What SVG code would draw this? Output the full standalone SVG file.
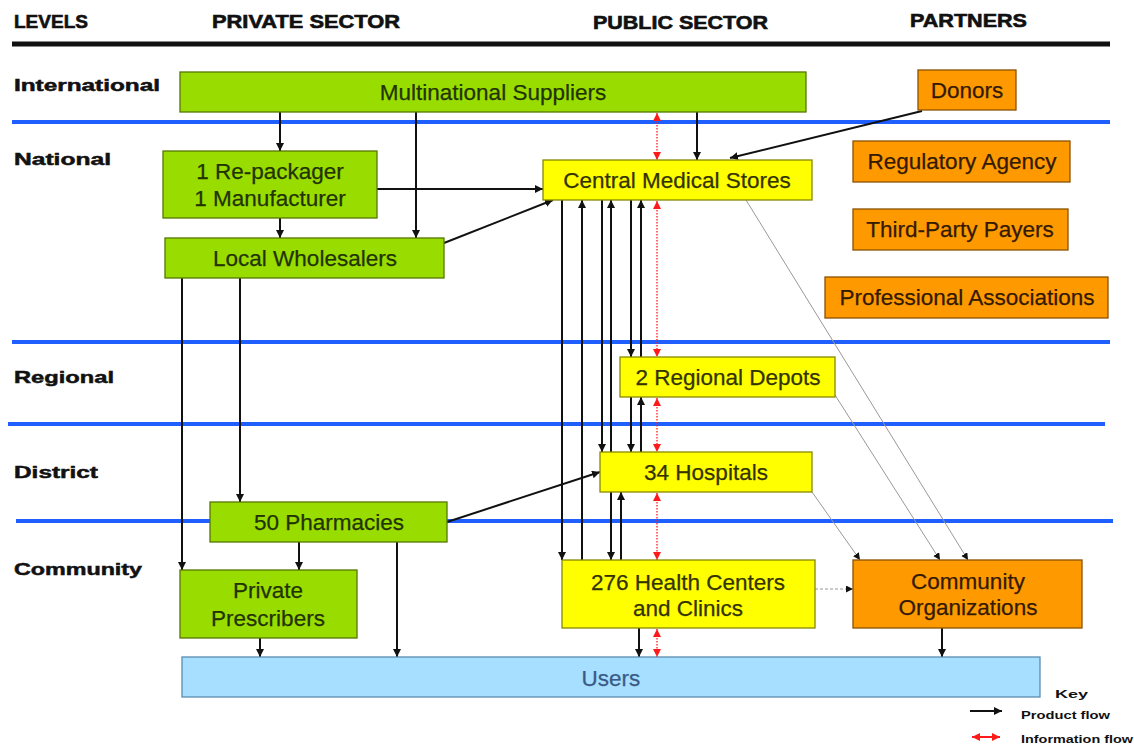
<svg xmlns="http://www.w3.org/2000/svg" width="1134" height="747" viewBox="0 0 1134 747">
  <style>
    .hdr { font-family: "Liberation Sans", Arial, sans-serif; font-weight: bold; font-size: 18px; fill: #111; stroke: #111; stroke-width: 0.6; }
    .lvl { font-family: "Liberation Sans", Arial, sans-serif; font-weight: bold; font-size: 17px; fill: #111; stroke: #111; stroke-width: 0.5; }
    .lbl { font-family: "Liberation Sans", Arial, sans-serif; font-size: 22.5px; text-anchor: middle; stroke-width: 0.25; }
    .green { fill: #99dd00; stroke: #557700; stroke-width: 1.3; }
    .yellow { fill: #ffff00; stroke: #888800; stroke-width: 1.3; }
    .orange { fill: #ff9900; stroke: #8a5200; stroke-width: 1.3; }
    .users { fill: #a6dfff; stroke: #5a8cb0; stroke-width: 1.3; }
    .tg { fill: #223300; stroke: #223300; }
    .ty { fill: #333300; stroke: #333300; }
    .to { fill: #331a00; stroke: #331a00; }
    .tu { fill: #3a5a86; stroke: #3a5a86; }
    .band { stroke: #1f5fff; stroke-width: 4; fill: none; }
    .prod { stroke: #111; stroke-width: 2; fill: none; marker-end: url(#ah); }
    .info { stroke: #ff1a1a; stroke-width: 1.3; stroke-dasharray: 1.5 1.5; fill: none; marker-start: url(#rh); marker-end: url(#rh); }
    .thin { stroke: #999; stroke-width: 1; fill: none; marker-end: url(#ahs); }
    .key { font-family: "Liberation Sans", Arial, sans-serif; font-weight: bold; font-size: 11px; fill: #111; }
  </style>
  <defs>
    <marker id="ah" markerUnits="userSpaceOnUse" markerWidth="9" markerHeight="9" refX="8" refY="4" orient="auto">
      <path d="M0,0 L8,4 L0,8 z" fill="#111"/>
    </marker>
    <marker id="ahs" markerUnits="userSpaceOnUse" markerWidth="8" markerHeight="8" refX="7" refY="3.5" orient="auto">
      <path d="M0,0 L7,3.5 L0,7 z" fill="#111"/>
    </marker>
    <marker id="rh" markerUnits="userSpaceOnUse" markerWidth="9" markerHeight="9" refX="8" refY="4" orient="auto-start-reverse">
      <path d="M0,0 L8,4 L0,8 z" fill="#ff1a1a"/>
    </marker>
  </defs>

  <!-- column headers -->
  <g id="headers">
    <text class="hdr" x="14" y="28" textLength="74" lengthAdjust="spacingAndGlyphs">LEVELS</text>
    <text class="hdr" x="212" y="28" textLength="188" lengthAdjust="spacingAndGlyphs">PRIVATE SECTOR</text>
    <text class="hdr" x="593" y="29" textLength="175" lengthAdjust="spacingAndGlyphs">PUBLIC SECTOR</text>
    <text class="hdr" x="910" y="27" textLength="117" lengthAdjust="spacingAndGlyphs">PARTNERS</text>
    <line x1="12" y1="44" x2="1110" y2="44" stroke="#111" stroke-width="5"/>
  </g>

  <!-- level bands -->
  <g id="levels">
    <line class="band" x1="12" y1="122" x2="1110" y2="122"/>
    <line class="band" x1="12" y1="342" x2="1110" y2="342"/>
    <line class="band" x1="8" y1="424" x2="1105" y2="424"/>
    <line class="band" x1="16" y1="521" x2="1113" y2="521"/>
    <text class="lvl" x="14" y="91" textLength="146" lengthAdjust="spacingAndGlyphs">International</text>
    <text class="lvl" x="14" y="165" textLength="97" lengthAdjust="spacingAndGlyphs">National</text>
    <text class="lvl" x="14" y="383" textLength="100" lengthAdjust="spacingAndGlyphs">Regional</text>
    <text class="lvl" x="14" y="478" textLength="84" lengthAdjust="spacingAndGlyphs">District</text>
    <text class="lvl" x="14" y="575" textLength="128" lengthAdjust="spacingAndGlyphs">Community</text>
  </g>

  <!-- flows -->
  <g id="connectors">
    <path class="prod" d="M280,112 V151"/>
    <path class="prod" d="M416,112 V238"/>
    <path class="prod" d="M697,112 V160"/>
    <path class="prod" d="M922,111 L730,158"/>
    <path class="prod" d="M377,189 H543"/>
    <path class="prod" d="M280,218 V238"/>
    <path class="prod" d="M444,243 L553,200"/>
    <path class="prod" d="M182,278 V570"/>
    <path class="prod" d="M240,278 V502"/>
    <path class="prod" d="M562,200 V560"/>
    <path class="prod" d="M582,560 V200"/>
    <path class="prod" d="M602,200 V452"/>
    <path class="prod" d="M611,452 V200"/>
    <path class="prod" d="M631,200 V357"/>
    <path class="prod" d="M641,357 V200"/>
    <path class="prod" d="M631,397 V452"/>
    <path class="prod" d="M641,452 V397"/>
    <path class="prod" d="M611,492 V560"/>
    <path class="prod" d="M621,560 V492"/>
    <path class="prod" d="M447,522 L600,472"/>
    <path class="prod" d="M299,542 V570"/>
    <path class="prod" d="M397,542 V657"/>
    <path class="prod" d="M260,638 V657"/>
    <path class="prod" d="M639,628 V657"/>
    <path class="prod" d="M942,628 V657"/>

    <path class="info" d="M657,113 V160"/>
    <path class="info" d="M657,201 V357"/>
    <path class="info" d="M657,398 V452"/>
    <path class="info" d="M657,493 V560"/>
    <path class="info" d="M657,629 V657"/>

    <path class="thin" d="M746,200 L968,560"/>
    <path class="thin" d="M835,395 L940,560"/>
    <path class="thin" d="M812,492 L860,560"/>
    <path class="thin" d="M815,589 H853" stroke-dasharray="3 2"/>
  </g>

  <g id="multinational-suppliers">
    <rect class="green" x="180" y="72" width="626" height="40"/>
    <text class="lbl tg" x="493" y="100">Multinational Suppliers</text>
  </g>
  <g id="donors">
    <rect class="orange" x="918" y="70" width="98" height="40"/>
    <text class="lbl to" x="967" y="98">Donors</text>
  </g>
  <g id="repackager-manufacturer">
    <rect class="green" x="163" y="151" width="214" height="67"/>
    <text class="lbl tg" x="270" y="179">1 Re-packager</text>
    <text class="lbl tg" x="270" y="206">1 Manufacturer</text>
  </g>
  <g id="local-wholesalers">
    <rect class="green" x="165" y="238" width="279" height="40"/>
    <text class="lbl tg" x="305" y="266">Local Wholesalers</text>
  </g>
  <g id="central-medical-stores">
    <rect class="yellow" x="543" y="160" width="269" height="40"/>
    <text class="lbl ty" x="677" y="188">Central Medical Stores</text>
  </g>
  <g id="regulatory-agency">
    <rect class="orange" x="853" y="141" width="217" height="41"/>
    <text class="lbl to" x="962" y="169">Regulatory Agency</text>
  </g>
  <g id="third-party-payers">
    <rect class="orange" x="853" y="209" width="215" height="41"/>
    <text class="lbl to" x="960" y="237">Third-Party Payers</text>
  </g>
  <g id="professional-associations">
    <rect class="orange" x="825" y="277" width="283" height="41"/>
    <text class="lbl to" x="967" y="305">Professional Associations</text>
  </g>
  <g id="regional-depots">
    <rect class="yellow" x="620" y="357" width="215" height="40"/>
    <text class="lbl ty" x="728" y="385">2 Regional Depots</text>
  </g>
  <g id="hospitals">
    <rect class="yellow" x="600" y="452" width="212" height="40"/>
    <text class="lbl ty" x="706" y="480">34 Hospitals</text>
  </g>
  <g id="pharmacies">
    <rect class="green" x="210" y="502" width="237" height="40"/>
    <text class="lbl tg" x="329" y="530">50 Pharmacies</text>
  </g>
  <g id="private-prescribers">
    <rect class="green" x="180" y="570" width="177" height="68"/>
    <text class="lbl tg" x="268" y="598">Private</text>
    <text class="lbl tg" x="268" y="626">Prescribers</text>
  </g>
  <g id="health-centers">
    <rect class="yellow" x="562" y="560" width="253" height="68"/>
    <text class="lbl ty" x="688" y="590">276 Health Centers</text>
    <text class="lbl ty" x="688" y="616">and Clinics</text>
  </g>
  <g id="community-organizations">
    <rect class="orange" x="853" y="560" width="229" height="68"/>
    <text class="lbl to" x="968" y="589">Community</text>
    <text class="lbl to" x="968" y="615">Organizations</text>
  </g>
  <g id="users">
    <rect class="users" x="182" y="657" width="858" height="40"/>
    <text class="lbl tu" x="611" y="686">Users</text>
  </g>

  <!-- legend -->
  <g id="key">
    <text class="key" x="1055" y="698" font-size="13" textLength="33" lengthAdjust="spacingAndGlyphs">Key</text>
    <path class="prod" d="M970,711 H1002" stroke-width="2"/>
    <text class="key" x="1021" y="719" textLength="89" lengthAdjust="spacingAndGlyphs">Product flow</text>
    <path d="M972,737 H1000" stroke="#ff1a1a" stroke-width="2" marker-start="url(#rh)" marker-end="url(#rh)"/>
    <text class="key" x="1021" y="743" textLength="112" lengthAdjust="spacingAndGlyphs">Information flow</text>
  </g>
</svg>
